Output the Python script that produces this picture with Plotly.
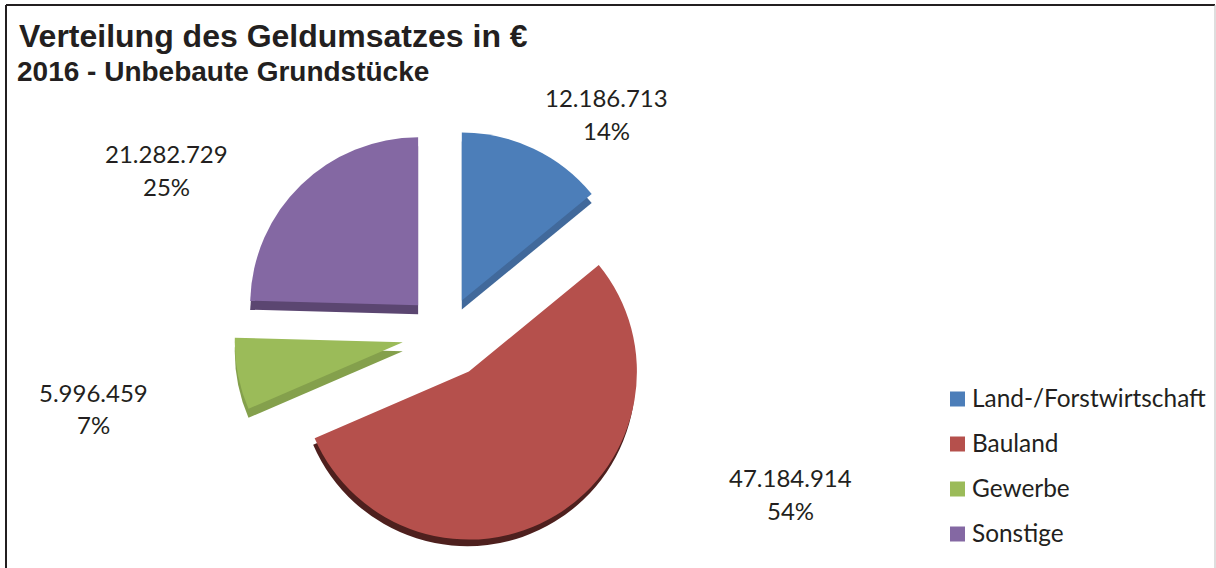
import plotly.graph_objects as go

W, H = 1216, 568

# Geldumsatz je Teilmarkt
categories = ["Land-/Forstwirtschaft", "Bauland", "Gewerbe", "Sonstige"]
values = [12186713, 47184914, 5996459, 21282729]

face_colors = ["#4C7EB9", "#B5504C", "#9BBB59", "#8468A3"]
edge_colors = ["#41699B", "#4E201E", "#84A04C", "#5B4671"]

face_pull = [0.22, 0.262, 0.262, 0.238]
edge_pull = [0.22, 0.245, 0.262, 0.238]

TEXT = "#231F20"
RADIUS = 168
CENTER_X, CENTER_Y = 446, 334
DEPTH = 9


def pie_domain(cx, cy, pull):
    half = RADIUS * (1 + max(pull))
    return dict(
        x=[(cx - half) / W, (cx + half) / W],
        y=[1 - (cy + half) / H, 1 - (cy - half) / H],
    )


def pie_trace(colors, pull, cy):
    return go.Pie(
        labels=categories,
        values=values,
        marker=dict(colors=colors, line=dict(width=0)),
        pull=pull,
        rotation=0,
        direction="clockwise",
        sort=False,
        textinfo="none",
        showlegend=False,
        domain=pie_domain(CENTER_X, cy, pull),
    )


fig = go.Figure()
# Darker copy underneath gives the slices their thickness
fig.add_trace(pie_trace(edge_colors, edge_pull, CENTER_Y + DEPTH))
fig.add_trace(pie_trace(face_colors, face_pull, CENTER_Y))


def text_at(x, y, text, family, size, anchor="center"):
    return dict(
        x=x / W, y=1 - y / H, xref="paper", yref="paper",
        text=text, showarrow=False, xanchor=anchor, yanchor="middle",
        font=dict(family=family, size=size, color=TEXT),
    )


# Value and share next to each slice, on separately spaced lines
label_pos = [(606, 97), (790, 477), (93, 392), (166, 154)]
total = sum(values)
annotations = []
for value, (x, y) in zip(values, label_pos):
    amount = f"{value:,}".replace(",", ".")
    annotations.append(text_at(x, y, amount, "Lato", 24))
    annotations.append(text_at(x, y + 33, f"{round(value / total * 100)}%", "Lato", 24))

# Subtitle
annotations.append(text_at(15, 71, "<b>2016 - Unbebaute Grundstücke</b>",
                           "Liberation Sans", 28, "left"))

# Legend column with larger swatches and wider spacing
shapes = []
for i, (name, color) in enumerate(zip(categories, face_colors)):
    yc = 399 + 45 * i
    shapes.append(dict(
        type="rect", xref="paper", yref="paper",
        x0=950 / W, x1=965 / W, y0=1 - (yc + 7.5) / H, y1=1 - (yc - 7.5) / H,
        fillcolor=color, line=dict(width=0),
    ))
    annotations.append(text_at(970, yc - 1.5, name, "Lato", 24.4, "left"))

# Chart frame: dark on the top and left, faint on the right
shapes.append(dict(type="line", xref="paper", yref="paper", x0=6 / W, x1=1215 / W,
                   y0=1 - 5 / H, y1=1 - 5 / H, line=dict(color="#231F20", width=2)))
shapes.append(dict(type="line", xref="paper", yref="paper", x0=6 / W, x1=6 / W,
                   y0=0, y1=1 - 5 / H, line=dict(color="#231F20", width=2)))
shapes.append(dict(type="line", xref="paper", yref="paper", x0=1215 / W, x1=1215 / W,
                   y0=0, y1=1 - 5 / H, line=dict(color="#BDBDBD", width=1)))

fig.update_layout(
    width=W, height=H,
    margin=dict(l=0, r=0, t=0, b=0),
    paper_bgcolor="white",
    title=dict(
        text="<b>Verteilung des Geldumsatzes in €</b>",
        x=19 / W, xanchor="left", xref="paper",
        y=1 - 36 / H, yanchor="middle", yref="paper",
        font=dict(family="Liberation Sans", size=32, color=TEXT),
    ),
    annotations=annotations,
    shapes=shapes,
)

fig.write_html("out.html")
